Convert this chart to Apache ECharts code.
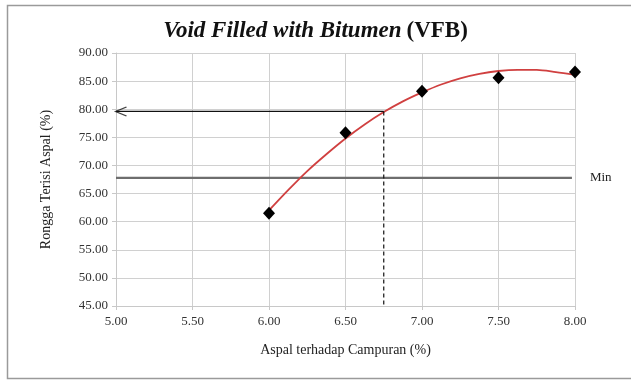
<!DOCTYPE html>
<html><head><meta charset="utf-8">
<script src="https://cdn.jsdelivr.net/npm/echarts@6/dist/echarts.min.js"></script>
<style>html,body{margin:0;padding:0;background:#fff}#c{width:631px;height:381px}</style>
</head><body><div id="c"></div>
<script>
const asphalt = [6.00, 6.50, 7.00, 7.50, 8.00];
const vfb = [61.5, 75.8, 83.2, 85.6, 86.6];
const trendX = [6.000, 6.125, 6.250, 6.375, 6.500, 6.625, 6.750, 6.875, 7.000, 7.125, 7.250, 7.375, 7.500, 7.625, 7.750, 7.875, 8.000];
const trendY = [62.0, 65.6, 69.0, 72.0, 74.8, 77.3, 79.5, 81.4, 83.0, 84.4, 85.5, 86.3, 86.8, 87.0, 87.0, 86.6, 86.1];
const optimumX = 6.75;
const optimumY = 79.6;
const minVFB = 67.8;
const xTicks = [5.0, 5.5, 6.0, 6.5, 7.0, 7.5, 8.0];
const yTicks = [45, 50, 55, 60, 65, 70, 75, 80, 85, 90];

const serif = 'Liberation Serif';
const chart = echarts.init(document.getElementById('c'));
chart.setOption({
  animation: false,
  backgroundColor: '#fff',
  graphic: [{
    type: 'rect', shape: {x: 7.5, y: 5.5, width: 640, height: 373},
    style: {fill: 'none', stroke: '#9a9a9a', lineWidth: 1.5}, silent: true
  }],
  title: {
    text: '{i|Void Filled with Bitumen} {b|(VFB)}',
    left: 'center', top: 15,
    textStyle: {
      rich: {
        i: {fontFamily: serif, fontStyle: 'italic', fontWeight: 'bold', fontSize: 23, color: '#111'},
        b: {fontFamily: serif, fontWeight: 'bold', fontSize: 23, color: '#111'}
      }
    }
  },
  grid: {left: 116, top: 53, width: 459, height: 253, containLabel: false},
  xAxis: {
    type: 'value', min: 5, max: 8, interval: 0.5,
    name: 'Aspal terhadap Campuran (%)', nameLocation: 'middle', nameGap: 37,
    nameTextStyle: {fontFamily: serif, fontSize: 14, color: '#222'},
    axisLine: {show: true, lineStyle: {color: '#c8c8c8'}},
    axisTick: {show: true, length: 4, lineStyle: {color: '#c8c8c8'}},
    axisLabel: {fontFamily: serif, fontSize: 13, color: '#333', margin: 9,
      formatter: v => v.toFixed(2)},
    splitLine: {show: true, lineStyle: {color: '#d0d0d0'}}
  },
  yAxis: {
    type: 'value', min: 45, max: 90, interval: 5,
    name: 'Rongga Terisi Aspal (%)', nameLocation: 'middle', nameGap: 63,
    nameTextStyle: {fontFamily: serif, fontSize: 14, color: '#222'},
    axisLine: {show: true, lineStyle: {color: '#c8c8c8'}},
    axisTick: {show: true, length: 4, lineStyle: {color: '#c8c8c8'}},
    axisLabel: {fontFamily: serif, fontSize: 13, color: '#333', margin: 8,
      formatter: v => v.toFixed(2)},
    splitLine: {show: true, lineStyle: {color: '#d0d0d0'}}
  },
  series: [
    {
      type: 'line', name: 'min', data: [[5, minVFB], [7.98, minVFB]],
      symbol: 'none', lineStyle: {color: '#6e6e6e', width: 2.2},
      endLabel: {show: true, formatter: 'Min', fontFamily: serif, fontSize: 13, color: '#222', distance: 18},
      z: 2
    },
    {
      type: 'line', name: 'trend', data: trendX.map((x, i) => [x, trendY[i]]),
      smooth: 0.3, symbol: 'none', lineStyle: {color: '#d04040', width: 1.8}, z: 3
    },
    {
      type: 'line', name: 'hline', data: [[optimumX, optimumY], [5, optimumY]],
      symbol: 'none', lineStyle: {color: '#111', width: 1.2}, z: 4
    },
    {
      type: 'scatter', name: 'arrow', data: [[5, optimumY]],
      symbol: 'path://M10,0 L0,5 L10,10', symbolSize: [11, 9], symbolOffset: [5, 0],
      itemStyle: {color: 'none', borderColor: '#111', borderWidth: 1.3}, z: 5
    },
    {
      type: 'line', name: 'vline', data: [[optimumX, optimumY], [optimumX, 45]],
      symbol: 'none', lineStyle: {color: '#111', width: 1.2, type: [4, 3]}, z: 4
    },
    {
      type: 'scatter', name: 'VFB', data: asphalt.map((x, i) => [x, vfb[i]]),
      symbol: 'diamond', symbolSize: [12, 13], itemStyle: {color: '#000', opacity: 1}, z: 6
    }
  ]
});
</script></body></html>
